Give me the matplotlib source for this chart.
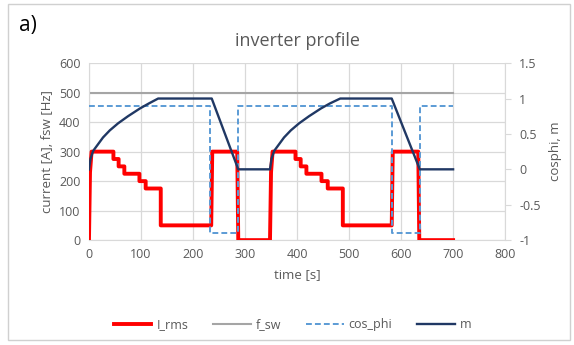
import matplotlib.pyplot as plt
from matplotlib.patches import Rectangle

plt.rcParams['font.family'] = ['Open Sans', 'DejaVu Sans']

# I_rms [A] over time [s]
t_irms = [0, 2, 5, 47, 47, 57, 57, 68, 68, 97, 97, 109, 109, 138, 138, 235, 237, 285, 287, 348,
          350, 353, 397, 397, 407, 407, 418, 418, 447, 447, 459, 459, 488, 488, 582, 584, 633, 635, 700]
i_rms = [0, 230, 300, 300, 275, 275, 250, 250, 225, 225, 200, 200, 175, 175, 50, 50, 300, 300, 0, 0,
         230, 300, 300, 275, 275, 250, 250, 225, 225, 200, 200, 175, 175, 50, 50, 300, 300, 0, 0]

# switching frequency [Hz]
t_fsw = [0, 700]
f_sw = [500, 500]

# power factor
t_cos = [0, 233, 233, 287, 287, 583, 583, 636, 636, 700]
cos_phi = [0.9, 0.9, -0.9, -0.9, 0.9, 0.9, -0.9, -0.9, 0.9, 0.9]

# modulation index
t_m = [0, 3, 8, 18, 27, 40, 56, 75, 98, 115, 133, 236, 287, 348,
       351, 356, 366, 375, 388, 404, 423, 446, 463, 483, 582, 636, 700]
m = [0, 0.15, 0.26, 0.36, 0.45, 0.55, 0.65, 0.75, 0.86, 0.93, 1.0, 1.0, 0, 0,
     0.15, 0.26, 0.36, 0.45, 0.55, 0.65, 0.75, 0.86, 0.93, 1.0, 1.0, 0, 0]

txt = '#595959'
grid = '#d9d9d9'

fig = plt.figure(figsize=(5.74, 3.45), dpi=100)
ax = fig.add_axes([0.155, 0.304, 0.725, 0.513])
ax2 = ax.twinx()

l1, = ax.plot(t_irms, i_rms, color='#ff0000', lw=2.8, label='I_rms', zorder=3)
l2, = ax.plot(t_fsw, f_sw, color='#a5a5a5', lw=1.5, label='f_sw', zorder=2)
l3, = ax2.plot(t_cos, cos_phi, color='#5b9bd5', lw=1.4, ls=(0, (3, 1.6)), label='cos_phi')
l4, = ax2.plot(t_m, m, color='#203864', lw=1.7, label='m')

ax.set_xlim(0, 800)
ax.set_ylim(0, 600)
ax.set_xticks(range(0, 801, 100))
ax.set_yticks(range(0, 601, 100))
ax2.set_ylim(-1, 1.5)
ax2.set_yticks([-1, -0.5, 0, 0.5, 1, 1.5])
ax2.set_yticklabels(['-1', '-0.5', '0', '0.5', '1', '1.5'])

ax.grid(True, color=grid, lw=0.9)
ax.set_axisbelow(True)
for a in (ax, ax2):
    for s in a.spines.values():
        s.set_visible(False)
ax.spines['bottom'].set_visible(True)
ax.spines['bottom'].set_color(grid)
ax.spines['left'].set_visible(True)
ax.spines['left'].set_color(grid)
ax2.spines['right'].set_visible(True)
ax2.spines['right'].set_color(grid)

ax.tick_params(axis='both', length=0, labelsize=9, colors=txt, pad=6)
ax2.tick_params(axis='y', length=4, color=grid, labelsize=9, colors=txt, pad=6)

ax.set_xlabel('time [s]', fontsize=9.5, color=txt, labelpad=5)
ax.set_ylabel('current [A], fsw [Hz]', fontsize=9.5, color=txt, labelpad=4)
ax2.set_ylabel('cosphi, m', fontsize=9.5, color=txt, labelpad=6)
ax.set_title('inverter profile', fontsize=13, color=txt, pad=12)

fig.text(0.033, 0.91, 'a)', fontsize=15, color='black')
fig.patches.append(Rectangle((8 / 574, 5 / 345), 562 / 574, 336 / 345, transform=fig.transFigure,
                             fill=False, edgecolor='#d0d0d0', lw=1))

fig.legend(handles=[l1, l2, l3, l4], loc='center', bbox_to_anchor=(0.51, 0.058), ncol=4,
           frameon=False, fontsize=9, labelcolor=txt, handlelength=3.0, columnspacing=2.0,
           handletextpad=0.4)

fig.savefig('out.png', dpi=100)
